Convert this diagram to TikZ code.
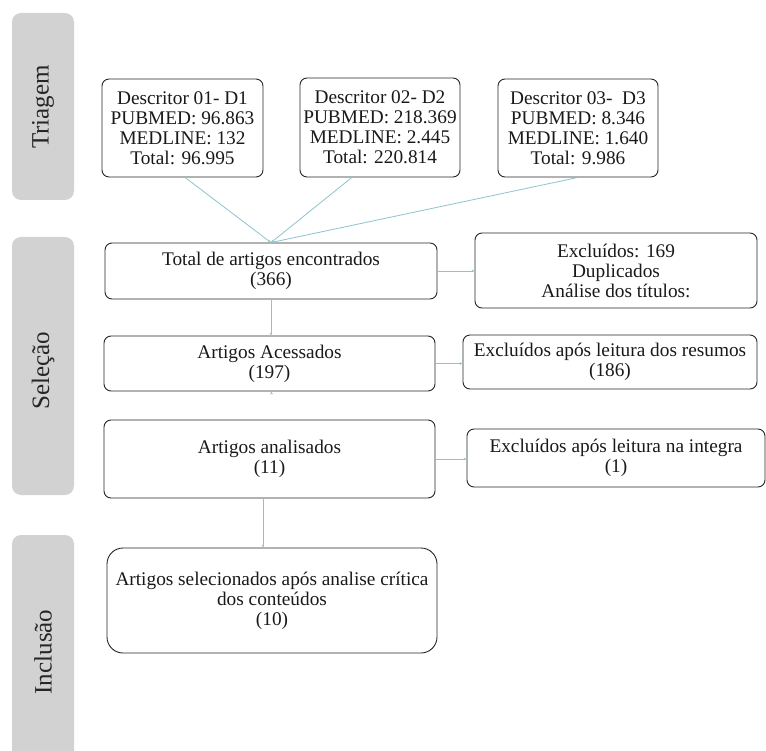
\documentclass[tikz,border=0pt]{standalone}
\usepackage{fontspec}
\setmainfont{Liberation Serif}
\usetikzlibrary{arrows.meta,calc}
\definecolor{bandgray}{HTML}{D2D2D2}
\definecolor{conn}{HTML}{8CC3CC}
\tikzset{
  band/.style={fill=bandgray, draw=none, rounded corners=9pt},
  bandlabel/.style={rotate=90, font=\fontsize{25}{28}\selectfont, text=black!85},
  box/.style={draw=black!85, line width=0.9pt, rounded corners=7pt, align=center,
    inner sep=2pt, font=\fontsize{19.3}{20}\selectfont, text=black!90},
  link/.style={draw=conn, line width=0.8pt, -{Stealth[length=3pt,width=2.6pt]}},
}
\begin{document}
\begin{tikzpicture}[x=1pt,y=-1pt]
\useasboundingbox (0,0) rectangle (766,751);
% bands
\fill[band] (12,13) rectangle (74,200);
\fill[band] (12,237) rectangle (74,495);
\fill[bandgray] (12,751) [rounded corners=9pt] -- (12,535) -- (74,535) [sharp corners] -- (74,751) -- cycle;
\node[bandlabel] (lt) at (43,107) {Triagem};
\node[bandlabel] (ls) at (43,371) {Seleção};
\node[bandlabel] (li) at (43,652) {Inclusão};
% boxes
\node[box, minimum width=161pt, minimum height=98pt] (d1) at (182.5,128)
  {Descritor 01- D1\\PUBMED: 96.863\\MEDLINE: 132\\Total: 96.995};
\node[box, minimum width=160pt, minimum height=99pt] (d2) at (380,127.5)
  {Descritor 02- D2\\PUBMED: 218.369\\MEDLINE: 2.445\\Total: 220.814};
\node[box, minimum width=160pt, minimum height=98pt] (d3) at (578,128)
  {Descritor 03-~ D3\\PUBMED: 8.346\\MEDLINE: 1.640\\Total: 9.986};
\node[box, minimum width=332pt, minimum height=56pt] (tot) at (271,271)
  {Total de artigos encontrados\\(366)};
\node[box, minimum width=282pt, minimum height=75pt] (ex1) at (616,270.5)
  {Excluídos: 169\\Duplicados\\Análise dos títulos:};
\node[box, minimum width=331pt, minimum height=55pt] (acc) at (269.5,363.5)
  {Artigos Acessados\\(197)};
\node[box, minimum width=294pt, minimum height=54pt] (ex2) at (610,362)
  {Excluídos após leitura dos resumos\\(186)};
\node[box, minimum width=331pt, minimum height=78pt] (an) at (269.5,459)
  {Artigos analisados\\(11)};
\node[box, minimum width=298pt, minimum height=58pt] (ex3) at (616,458)
  {Excluídos após leitura na integra\\(1)};
\node[box, rounded corners=16pt, minimum width=330pt, minimum height=105pt] (sel) at (272,600.5)
  {Artigos selecionados após analise crítica\\dos conteúdos\\(10)};
% connectors
\coordinate (d1s) at ($(d1.south)+(2.5,0)$);
\coordinate (d2s) at ($(d2.south west)!0.325!(d2.south east)$);
\coordinate (d3s) at (d3.south);
\draw[link] (d1s) -- (tot.north);
\draw[link] (d2s) -- (tot.north);
\draw[link] (d3s) -- (tot.north);
\draw[link] (tot.east) -- (tot.east -| ex1.west);
\draw[link] (tot.south) -- (tot.south |- acc.north);
\draw[link] (acc.east) -- (acc.east -| ex2.west);
\draw[link] ($(acc.south)+(2,0)$) -- ($(acc.south)+(2,0)$ |- an.north);
\draw[link] (an.east) -- (an.east -| ex3.west);
\coordinate (ans) at ($(an.south)+(-6.5,0)$);
\draw[link] (ans) -- (ans |- sel.north);
\end{tikzpicture}
\end{document}
